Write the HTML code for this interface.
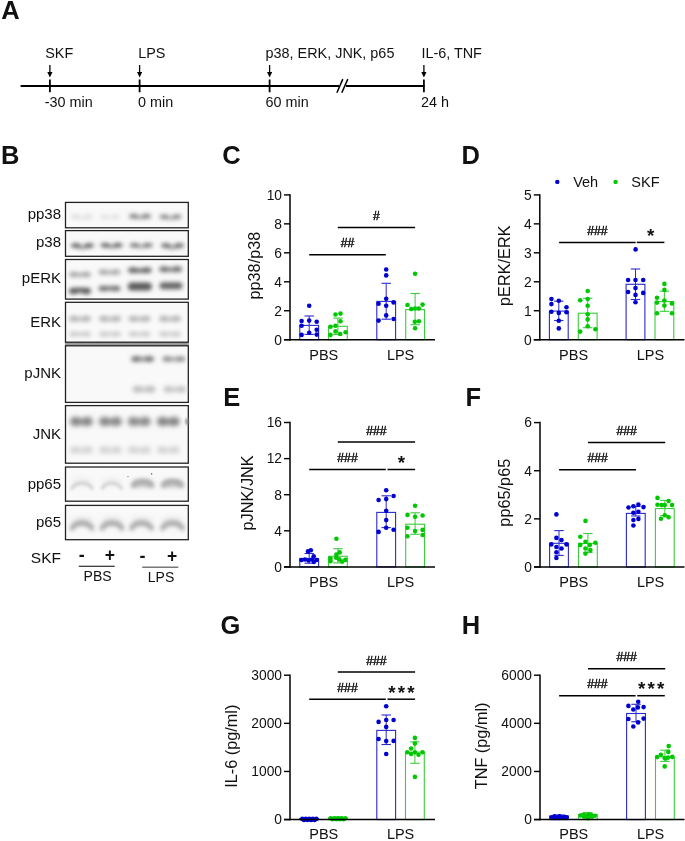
<!DOCTYPE html>
<html><head><meta charset="utf-8"><style>
html,body{margin:0;padding:0;background:#fff;}
svg{display:block;will-change:transform;}
text{font-family:"Liberation Sans", sans-serif;fill:#111;}
</style></head><body>
<svg width="685" height="841" viewBox="0 0 685 841">
<rect width="685" height="841" fill="#fff"/>
<text x="1.2" y="18.8" font-size="25.5" text-anchor="start" font-weight="bold" >A</text>
<text x="1.0" y="163.5" font-size="25.5" text-anchor="start" font-weight="bold" >B</text>
<text x="222.2" y="164.1" font-size="25.5" text-anchor="start" font-weight="bold" >C</text>
<text x="461.5" y="164.4" font-size="25.5" text-anchor="start" font-weight="bold" >D</text>
<text x="223.3" y="406.0" font-size="25.5" text-anchor="start" font-weight="bold" >E</text>
<text x="465.5" y="405.6" font-size="25.5" text-anchor="start" font-weight="bold" >F</text>
<text x="220.5" y="633.7" font-size="25.5" text-anchor="start" font-weight="bold" >G</text>
<text x="461.8" y="633.5" font-size="25.5" text-anchor="start" font-weight="bold" >H</text>
<line x1="20.6" y1="86" x2="339" y2="86" stroke="#000" stroke-width="1.8"/>
<line x1="346" y1="86" x2="424.5" y2="86" stroke="#000" stroke-width="1.8"/>
<line x1="336.9" y1="92.8" x2="342.8" y2="79.1" stroke="#000" stroke-width="1.5"/>
<line x1="341.8" y1="92.8" x2="347.8" y2="79.1" stroke="#000" stroke-width="1.5"/>
<line x1="49.9" y1="79.5" x2="49.9" y2="92.3" stroke="#000" stroke-width="1.8"/>
<line x1="49.9" y1="65" x2="49.9" y2="73" stroke="#000" stroke-width="1.3"/>
<path d="M47.3,72 L52.5,72 L49.9,77.5 Z" fill="#000"/>
<line x1="139.6" y1="79.5" x2="139.6" y2="92.3" stroke="#000" stroke-width="1.8"/>
<line x1="139.6" y1="65" x2="139.6" y2="73" stroke="#000" stroke-width="1.3"/>
<path d="M137.0,72 L142.2,72 L139.6,77.5 Z" fill="#000"/>
<line x1="269.6" y1="79.5" x2="269.6" y2="92.3" stroke="#000" stroke-width="1.8"/>
<line x1="269.6" y1="65" x2="269.6" y2="73" stroke="#000" stroke-width="1.3"/>
<path d="M267.0,72 L272.20000000000005,72 L269.6,77.5 Z" fill="#000"/>
<line x1="423.9" y1="79.5" x2="423.9" y2="92.3" stroke="#000" stroke-width="1.8"/>
<line x1="423.9" y1="65" x2="423.9" y2="73" stroke="#000" stroke-width="1.3"/>
<path d="M421.29999999999995,72 L426.5,72 L423.9,77.5 Z" fill="#000"/>
<text x="45.2" y="58.2" font-size="14.4" text-anchor="start" font-weight="normal" >SKF</text>
<text x="138.2" y="58.2" font-size="14.4" text-anchor="start" font-weight="normal" >LPS</text>
<text x="265.6" y="58.2" font-size="14.4" text-anchor="start" font-weight="normal" >p38, ERK, JNK, p65</text>
<text x="421.4" y="58.2" font-size="14.4" text-anchor="start" font-weight="normal" >IL-6, TNF</text>
<text x="44.8" y="107.2" font-size="14.4" text-anchor="start" font-weight="normal" >-30 min</text>
<text x="138.0" y="107.2" font-size="14.4" text-anchor="start" font-weight="normal" >0 min</text>
<text x="265.6" y="107.2" font-size="14.4" text-anchor="start" font-weight="normal" >60 min</text>
<text x="421.0" y="107.2" font-size="14.4" text-anchor="start" font-weight="normal" >24 h</text>
<defs><filter id="b10" filterUnits="userSpaceOnUse" x="0" y="0" width="685" height="841"><feGaussianBlur stdDeviation="1.0"/></filter><filter id="b11" filterUnits="userSpaceOnUse" x="0" y="0" width="685" height="841"><feGaussianBlur stdDeviation="1.1"/></filter><filter id="b12" filterUnits="userSpaceOnUse" x="0" y="0" width="685" height="841"><feGaussianBlur stdDeviation="1.2"/></filter><filter id="b13" filterUnits="userSpaceOnUse" x="0" y="0" width="685" height="841"><feGaussianBlur stdDeviation="1.3"/></filter><filter id="b14" filterUnits="userSpaceOnUse" x="0" y="0" width="685" height="841"><feGaussianBlur stdDeviation="1.4"/></filter><filter id="b15" filterUnits="userSpaceOnUse" x="0" y="0" width="685" height="841"><feGaussianBlur stdDeviation="1.5"/></filter><filter id="b16" filterUnits="userSpaceOnUse" x="0" y="0" width="685" height="841"><feGaussianBlur stdDeviation="1.6"/></filter><filter id="b17" filterUnits="userSpaceOnUse" x="0" y="0" width="685" height="841"><feGaussianBlur stdDeviation="1.7"/></filter><filter id="b18" filterUnits="userSpaceOnUse" x="0" y="0" width="685" height="841"><feGaussianBlur stdDeviation="1.8"/></filter><filter id="b19" filterUnits="userSpaceOnUse" x="0" y="0" width="685" height="841"><feGaussianBlur stdDeviation="1.9"/></filter><filter id="b20" filterUnits="userSpaceOnUse" x="0" y="0" width="685" height="841"><feGaussianBlur stdDeviation="2.0"/></filter><filter id="b21" filterUnits="userSpaceOnUse" x="0" y="0" width="685" height="841"><feGaussianBlur stdDeviation="2.1"/></filter><filter id="b22" filterUnits="userSpaceOnUse" x="0" y="0" width="685" height="841"><feGaussianBlur stdDeviation="2.2"/></filter><filter id="b23" filterUnits="userSpaceOnUse" x="0" y="0" width="685" height="841"><feGaussianBlur stdDeviation="2.3"/></filter><filter id="b24" filterUnits="userSpaceOnUse" x="0" y="0" width="685" height="841"><feGaussianBlur stdDeviation="2.4"/></filter><filter id="b25" filterUnits="userSpaceOnUse" x="0" y="0" width="685" height="841"><feGaussianBlur stdDeviation="2.5"/></filter><filter id="b26" filterUnits="userSpaceOnUse" x="0" y="0" width="685" height="841"><feGaussianBlur stdDeviation="2.6"/></filter><filter id="b27" filterUnits="userSpaceOnUse" x="0" y="0" width="685" height="841"><feGaussianBlur stdDeviation="2.7"/></filter><filter id="b28" filterUnits="userSpaceOnUse" x="0" y="0" width="685" height="841"><feGaussianBlur stdDeviation="2.8"/></filter><filter id="b29" filterUnits="userSpaceOnUse" x="0" y="0" width="685" height="841"><feGaussianBlur stdDeviation="2.9"/></filter><filter id="b30" filterUnits="userSpaceOnUse" x="0" y="0" width="685" height="841"><feGaussianBlur stdDeviation="3.0"/></filter><filter id="b31" filterUnits="userSpaceOnUse" x="0" y="0" width="685" height="841"><feGaussianBlur stdDeviation="3.1"/></filter><filter id="b32" filterUnits="userSpaceOnUse" x="0" y="0" width="685" height="841"><feGaussianBlur stdDeviation="3.2"/></filter><filter id="b33" filterUnits="userSpaceOnUse" x="0" y="0" width="685" height="841"><feGaussianBlur stdDeviation="3.3"/></filter><filter id="b34" filterUnits="userSpaceOnUse" x="0" y="0" width="685" height="841"><feGaussianBlur stdDeviation="3.4"/></filter></defs>
<rect x="64.9" y="342.2" width="124" height="3.6" fill="#9a9a9a"/>
<rect x="65.5" y="202.4" width="122.80000000000001" height="25.400000000000006" fill="#f9f9f9" stroke="#222" stroke-width="1.3"/>
<text x="61" y="218.8" font-size="15" text-anchor="end" font-weight="normal" >pp38</text>
<rect x="65.5" y="230.6" width="122.80000000000001" height="25.700000000000017" fill="#f9f9f9" stroke="#222" stroke-width="1.3"/>
<text x="61" y="246.7" font-size="15" text-anchor="end" font-weight="normal" >p38</text>
<rect x="65.5" y="259.5" width="122.80000000000001" height="39.60000000000002" fill="#f9f9f9" stroke="#222" stroke-width="1.3"/>
<text x="61" y="282.9" font-size="15" text-anchor="end" font-weight="normal" >pERK</text>
<rect x="65.5" y="302.3" width="122.80000000000001" height="39.89999999999998" fill="#f9f9f9" stroke="#222" stroke-width="1.3"/>
<text x="61" y="326.8" font-size="15" text-anchor="end" font-weight="normal" >ERK</text>
<rect x="65.5" y="345.8" width="122.80000000000001" height="56.599999999999966" fill="#f9f9f9" stroke="#222" stroke-width="1.3"/>
<text x="61" y="377.9" font-size="15" text-anchor="end" font-weight="normal" >pJNK</text>
<rect x="65.5" y="405.6" width="122.80000000000001" height="57.599999999999966" fill="#f9f9f9" stroke="#222" stroke-width="1.3"/>
<text x="61" y="439.2" font-size="15" text-anchor="end" font-weight="normal" >JNK</text>
<rect x="65.5" y="467.0" width="122.80000000000001" height="34.19999999999999" fill="#f9f9f9" stroke="#222" stroke-width="1.3"/>
<text x="61" y="488.6" font-size="15" text-anchor="end" font-weight="normal" >pp65</text>
<rect x="65.5" y="505.4" width="122.80000000000001" height="34.30000000000007" fill="#f9f9f9" stroke="#222" stroke-width="1.3"/>
<text x="61" y="526.8" font-size="15" text-anchor="end" font-weight="normal" >p65</text>
<g filter="url(#b20)"><path d="M75.7,216.6 Q82,220.6 88.3,216.6" stroke="#dadada" stroke-opacity="0.55" stroke-width="3.2" fill="none"/><ellipse cx="75.7" cy="216.6" rx="4.7" ry="2.0" fill="#dadada"/><ellipse cx="88.3" cy="216.6" rx="4.7" ry="2.0" fill="#dadada"/></g>
<g filter="url(#b20)"><path d="M104.3,216.6 Q110,220.6 115.7,216.6" stroke="#dedede" stroke-opacity="0.55" stroke-width="3.2" fill="none"/><ellipse cx="104.3" cy="216.6" rx="4.300000000000001" ry="2.0" fill="#dedede"/><ellipse cx="115.7" cy="216.6" rx="4.300000000000001" ry="2.0" fill="#dedede"/></g>
<g filter="url(#b19)"><path d="M133.7,216.2 Q140,219.2 146.3,216.2" stroke="#7a7a7a" stroke-opacity="0.6" stroke-width="3.6" fill="none"/><ellipse cx="133.7" cy="216.2" rx="4.7" ry="2.25" fill="#7a7a7a"/><ellipse cx="146.3" cy="216.2" rx="4.7" ry="2.25" fill="#7a7a7a"/></g>
<g filter="url(#b19)"><path d="M164.2,216.8 Q170.5,219.8 176.8,216.8" stroke="#868686" stroke-opacity="0.6" stroke-width="3.6" fill="none"/><ellipse cx="164.2" cy="216.8" rx="4.7" ry="2.25" fill="#868686"/><ellipse cx="176.8" cy="216.8" rx="4.7" ry="2.25" fill="#868686"/></g>
<g filter="url(#b19)"><path d="M75.80000000000001,245.4 Q82.4,249.8 89.0,245.4" stroke="#5e5e5e" stroke-opacity="0.6" stroke-width="3.6" fill="none"/><ellipse cx="75.80000000000001" cy="245.4" rx="4.9" ry="2.25" fill="#5e5e5e"/><ellipse cx="89.0" cy="245.4" rx="4.9" ry="2.25" fill="#5e5e5e"/></g>
<g filter="url(#b19)"><path d="M105.3,245.2 Q111.6,248.2 117.89999999999999,245.2" stroke="#606060" stroke-opacity="0.65" stroke-width="3.6" fill="none"/><ellipse cx="105.3" cy="245.2" rx="4.7" ry="2.25" fill="#606060"/><ellipse cx="117.89999999999999" cy="245.2" rx="4.7" ry="2.25" fill="#606060"/></g>
<g filter="url(#b19)"><path d="M134.6,245.2 Q141.2,248.2 147.79999999999998,245.2" stroke="#767676" stroke-opacity="0.6" stroke-width="3.6" fill="none"/><ellipse cx="134.6" cy="245.2" rx="4.9" ry="2.25" fill="#767676"/><ellipse cx="147.79999999999998" cy="245.2" rx="4.9" ry="2.25" fill="#767676"/></g>
<g filter="url(#b19)"><path d="M165.9,245.6 Q172.5,249.6 179.1,245.6" stroke="#666666" stroke-opacity="0.6" stroke-width="3.6" fill="none"/><ellipse cx="165.9" cy="245.6" rx="4.9" ry="2.25" fill="#666666"/><ellipse cx="179.1" cy="245.6" rx="4.9" ry="2.25" fill="#666666"/></g>
<g filter="url(#b21)"><path d="M73.7,274.4 Q80,275.4 86.3,274.4" stroke="#a6a6a6" stroke-opacity="0.8" stroke-width="4.4" fill="none"/><ellipse cx="73.7" cy="274.4" rx="4.7" ry="2.75" fill="#a6a6a6"/><ellipse cx="86.3" cy="274.4" rx="4.7" ry="2.75" fill="#a6a6a6"/></g>
<g filter="url(#b21)"><path d="M103.2,272.1 Q109.5,273.1 115.8,272.1" stroke="#a8a8a8" stroke-opacity="0.8" stroke-width="4.4" fill="none"/><ellipse cx="103.2" cy="272.1" rx="4.7" ry="2.75" fill="#a8a8a8"/><ellipse cx="115.8" cy="272.1" rx="4.7" ry="2.75" fill="#a8a8a8"/></g>
<g filter="url(#b21)"><path d="M132.9,270.2 Q139.8,271.2 146.70000000000002,270.2" stroke="#686868" stroke-opacity="0.85" stroke-width="4.800000000000001" fill="none"/><ellipse cx="132.9" cy="270.2" rx="5.1000000000000005" ry="3.0" fill="#686868"/><ellipse cx="146.70000000000002" cy="270.2" rx="5.1000000000000005" ry="3.0" fill="#686868"/></g>
<g filter="url(#b21)"><path d="M164.0,269.3 Q170.6,269.90000000000003 177.2,269.3" stroke="#747474" stroke-opacity="0.8" stroke-width="4.800000000000001" fill="none"/><ellipse cx="164.0" cy="269.3" rx="4.9" ry="3.0" fill="#747474"/><ellipse cx="177.2" cy="269.3" rx="4.9" ry="3.0" fill="#747474"/></g>
<g filter="url(#b21)"><path d="M73.7,291 Q80,289.4 86.3,291" stroke="#5a5a5a" stroke-opacity="0.9" stroke-width="5.2" fill="none"/><ellipse cx="73.7" cy="291" rx="4.7" ry="3.25" fill="#5a5a5a"/><ellipse cx="86.3" cy="291" rx="4.7" ry="3.25" fill="#5a5a5a"/></g>
<g filter="url(#b21)"><path d="M103.2,288.6 Q109.5,288.0 115.8,288.6" stroke="#6e6e6e" stroke-opacity="0.9" stroke-width="4.4" fill="none"/><ellipse cx="103.2" cy="288.6" rx="4.7" ry="2.75" fill="#6e6e6e"/><ellipse cx="115.8" cy="288.6" rx="4.7" ry="2.75" fill="#6e6e6e"/></g>
<g filter="url(#b22)" opacity="1.0"><rect x="127.80000000000001" y="282.4" width="24" height="8" rx="4.0" fill="#5a5a5a"/></g>
<g filter="url(#b22)" opacity="1.0"><rect x="159.5" y="282.3" width="23" height="7" rx="3.5" fill="#666666"/></g>
<g filter="url(#b22)"><path d="M73.7,318.8 Q80,319.40000000000003 86.3,318.8" stroke="#b6b6b6" stroke-opacity="0.8" stroke-width="4.800000000000001" fill="none"/><ellipse cx="73.7" cy="318.8" rx="4.7" ry="3.0" fill="#b6b6b6"/><ellipse cx="86.3" cy="318.8" rx="4.7" ry="3.0" fill="#b6b6b6"/></g>
<g filter="url(#b22)"><path d="M73.7,334 Q80,334.6 86.3,334" stroke="#c8c8c8" stroke-opacity="0.8" stroke-width="4.0" fill="none"/><ellipse cx="73.7" cy="334" rx="4.7" ry="2.5" fill="#c8c8c8"/><ellipse cx="86.3" cy="334" rx="4.7" ry="2.5" fill="#c8c8c8"/></g>
<g filter="url(#b22)"><path d="M103.7,318.8 Q110,319.40000000000003 116.3,318.8" stroke="#b6b6b6" stroke-opacity="0.8" stroke-width="4.800000000000001" fill="none"/><ellipse cx="103.7" cy="318.8" rx="4.7" ry="3.0" fill="#b6b6b6"/><ellipse cx="116.3" cy="318.8" rx="4.7" ry="3.0" fill="#b6b6b6"/></g>
<g filter="url(#b22)"><path d="M103.7,334 Q110,334.6 116.3,334" stroke="#c8c8c8" stroke-opacity="0.8" stroke-width="4.0" fill="none"/><ellipse cx="103.7" cy="334" rx="4.7" ry="2.5" fill="#c8c8c8"/><ellipse cx="116.3" cy="334" rx="4.7" ry="2.5" fill="#c8c8c8"/></g>
<g filter="url(#b22)"><path d="M133.2,318.8 Q139.5,319.40000000000003 145.8,318.8" stroke="#b6b6b6" stroke-opacity="0.8" stroke-width="4.800000000000001" fill="none"/><ellipse cx="133.2" cy="318.8" rx="4.7" ry="3.0" fill="#b6b6b6"/><ellipse cx="145.8" cy="318.8" rx="4.7" ry="3.0" fill="#b6b6b6"/></g>
<g filter="url(#b22)"><path d="M133.2,334 Q139.5,334.6 145.8,334" stroke="#c8c8c8" stroke-opacity="0.8" stroke-width="4.0" fill="none"/><ellipse cx="133.2" cy="334" rx="4.7" ry="2.5" fill="#c8c8c8"/><ellipse cx="145.8" cy="334" rx="4.7" ry="2.5" fill="#c8c8c8"/></g>
<g filter="url(#b22)"><path d="M163.7,318.8 Q170,319.40000000000003 176.3,318.8" stroke="#b6b6b6" stroke-opacity="0.8" stroke-width="4.800000000000001" fill="none"/><ellipse cx="163.7" cy="318.8" rx="4.7" ry="3.0" fill="#b6b6b6"/><ellipse cx="176.3" cy="318.8" rx="4.7" ry="3.0" fill="#b6b6b6"/></g>
<g filter="url(#b22)"><path d="M163.7,334 Q170,334.6 176.3,334" stroke="#c8c8c8" stroke-opacity="0.8" stroke-width="4.0" fill="none"/><ellipse cx="163.7" cy="334" rx="4.7" ry="2.5" fill="#c8c8c8"/><ellipse cx="176.3" cy="334" rx="4.7" ry="2.5" fill="#c8c8c8"/></g>
<g filter="url(#b20)"><path d="M136.0,358.9 Q142.6,359.5 149.2,358.9" stroke="#7a7a7a" stroke-opacity="0.7" stroke-width="4.800000000000001" fill="none"/><ellipse cx="136.0" cy="358.9" rx="4.9" ry="3.0" fill="#7a7a7a"/><ellipse cx="149.2" cy="358.9" rx="4.9" ry="3.0" fill="#7a7a7a"/></g>
<g filter="url(#b20)"><path d="M167.20000000000002,358.9 Q173.8,359.5 180.4,358.9" stroke="#8e8e8e" stroke-opacity="0.7" stroke-width="4.4" fill="none"/><ellipse cx="167.20000000000002" cy="358.9" rx="4.9" ry="2.75" fill="#8e8e8e"/><ellipse cx="180.4" cy="358.9" rx="4.9" ry="2.75" fill="#8e8e8e"/></g>
<g filter="url(#b22)"><path d="M137.4,389.2 Q144,389.8 150.6,389.2" stroke="#c0c0c0" stroke-opacity="0.8" stroke-width="5.6000000000000005" fill="none"/><ellipse cx="137.4" cy="389.2" rx="4.9" ry="3.5" fill="#c0c0c0"/><ellipse cx="150.6" cy="389.2" rx="4.9" ry="3.5" fill="#c0c0c0"/></g>
<g filter="url(#b22)"><path d="M168.20000000000002,389.2 Q174.8,389.8 181.4,389.2" stroke="#c6c6c6" stroke-opacity="0.8" stroke-width="5.6000000000000005" fill="none"/><ellipse cx="168.20000000000002" cy="389.2" rx="4.9" ry="3.5" fill="#c6c6c6"/><ellipse cx="181.4" cy="389.2" rx="4.9" ry="3.5" fill="#c6c6c6"/></g>
<g filter="url(#b26)"><path d="M75.24000000000001,421.5 Q81.4,421.9 87.56,421.5" stroke="#848484" stroke-opacity="0.8" stroke-width="7.6000000000000005" fill="none"/><ellipse cx="75.24000000000001" cy="421.5" rx="5.34" ry="4.75" fill="#848484"/><ellipse cx="87.56" cy="421.5" rx="5.34" ry="4.75" fill="#848484"/></g>
<g filter="url(#b24)"><path d="M74.80000000000001,450 Q81.4,450.4 88.0,450" stroke="#d0d0d0" stroke-opacity="0.8" stroke-width="5.6000000000000005" fill="none"/><ellipse cx="74.80000000000001" cy="450" rx="4.9" ry="3.5" fill="#d0d0d0"/><ellipse cx="88.0" cy="450" rx="4.9" ry="3.5" fill="#d0d0d0"/></g>
<g filter="url(#b26)"><path d="M104.24000000000001,421.5 Q110.4,421.9 116.56,421.5" stroke="#868686" stroke-opacity="0.8" stroke-width="7.6000000000000005" fill="none"/><ellipse cx="104.24000000000001" cy="421.5" rx="5.34" ry="4.75" fill="#868686"/><ellipse cx="116.56" cy="421.5" rx="5.34" ry="4.75" fill="#868686"/></g>
<g filter="url(#b24)"><path d="M103.80000000000001,450 Q110.4,450.4 117.0,450" stroke="#d0d0d0" stroke-opacity="0.8" stroke-width="5.6000000000000005" fill="none"/><ellipse cx="103.80000000000001" cy="450" rx="4.9" ry="3.5" fill="#d0d0d0"/><ellipse cx="117.0" cy="450" rx="4.9" ry="3.5" fill="#d0d0d0"/></g>
<g filter="url(#b26)"><path d="M133.14000000000001,421.5 Q139.3,421.9 145.46,421.5" stroke="#8a8a8a" stroke-opacity="0.8" stroke-width="7.6000000000000005" fill="none"/><ellipse cx="133.14000000000001" cy="421.5" rx="5.34" ry="4.75" fill="#8a8a8a"/><ellipse cx="145.46" cy="421.5" rx="5.34" ry="4.75" fill="#8a8a8a"/></g>
<g filter="url(#b24)"><path d="M132.70000000000002,450 Q139.3,450.4 145.9,450" stroke="#d0d0d0" stroke-opacity="0.8" stroke-width="5.6000000000000005" fill="none"/><ellipse cx="132.70000000000002" cy="450" rx="4.9" ry="3.5" fill="#d0d0d0"/><ellipse cx="145.9" cy="450" rx="4.9" ry="3.5" fill="#d0d0d0"/></g>
<g filter="url(#b26)"><path d="M162.14000000000001,421.5 Q168.3,421.9 174.46,421.5" stroke="#828282" stroke-opacity="0.8" stroke-width="7.6000000000000005" fill="none"/><ellipse cx="162.14000000000001" cy="421.5" rx="5.34" ry="4.75" fill="#828282"/><ellipse cx="174.46" cy="421.5" rx="5.34" ry="4.75" fill="#828282"/></g>
<g filter="url(#b24)"><path d="M161.70000000000002,450 Q168.3,450.4 174.9,450" stroke="#d0d0d0" stroke-opacity="0.8" stroke-width="5.6000000000000005" fill="none"/><ellipse cx="161.70000000000002" cy="450" rx="4.9" ry="3.5" fill="#d0d0d0"/><ellipse cx="174.9" cy="450" rx="4.9" ry="3.5" fill="#d0d0d0"/></g>
<g filter="url(#b12)" opacity="1.0"><rect x="185.5" y="418.0" width="3" height="7" rx="3.5" fill="#8a8a8a"/></g>
<g filter="url(#b30)"><ellipse cx="82" cy="481.7" rx="10.5" ry="4" fill="#ededed"/></g>
<g filter="url(#b17)"><path d="M72.0,488.2 C76.25,481.2 87.75,481.2 92.0,488.2" stroke="#d2d2d2" stroke-width="3.5" fill="none" stroke-linecap="round"/></g>
<g filter="url(#b30)"><ellipse cx="111.8" cy="481.7" rx="10.0" ry="4" fill="#eeeeee"/></g>
<g filter="url(#b17)"><path d="M102.3,488.2 C106.3,481.2 117.3,481.2 121.3,488.2" stroke="#d4d4d4" stroke-width="3.5" fill="none" stroke-linecap="round"/></g>
<g filter="url(#b22)" opacity="1.0"><rect x="132.6" y="480.0" width="20" height="8" rx="4.0" fill="#d0d0d0"/></g>
<g filter="url(#b22)" opacity="1.0"><rect x="162.5" y="480.0" width="20" height="8" rx="4.0" fill="#d0d0d0"/></g>
<g filter="url(#b20)"><path d="M133.1,485.5 C137.1,480.0 148.1,480.0 152.1,485.5" stroke="#a2a2a2" stroke-width="4.5" fill="none" stroke-linecap="round"/></g>
<g filter="url(#b20)"><path d="M163.0,485.5 C167.0,480.0 178.0,480.0 182.0,485.5" stroke="#a2a2a2" stroke-width="4.5" fill="none" stroke-linecap="round"/></g>
<circle cx="128" cy="476.5" r="0.6" fill="#555"/><circle cx="151.6" cy="473.9" r="0.7" fill="#444"/>
<g filter="url(#b30)"><ellipse cx="82" cy="521.8" rx="10.5" ry="4" fill="#e0e0e0"/></g>
<g filter="url(#b19)"><path d="M72.0,528.3 C76.25,521.3 87.75,521.3 92.0,528.3" stroke="#a2a2a2" stroke-width="4.6" fill="none" stroke-linecap="round"/></g>
<g filter="url(#b30)"><ellipse cx="112" cy="521.8" rx="10.5" ry="4" fill="#e0e0e0"/></g>
<g filter="url(#b19)"><path d="M102.0,528.3 C106.25,521.3 117.75,521.3 122.0,528.3" stroke="#a2a2a2" stroke-width="4.6" fill="none" stroke-linecap="round"/></g>
<g filter="url(#b30)"><ellipse cx="141.5" cy="521.8" rx="10.5" ry="4" fill="#e0e0e0"/></g>
<g filter="url(#b19)"><path d="M131.5,528.3 C135.75,521.3 147.25,521.3 151.5,528.3" stroke="#a2a2a2" stroke-width="4.6" fill="none" stroke-linecap="round"/></g>
<g filter="url(#b30)"><ellipse cx="172.5" cy="521.8" rx="10.5" ry="4" fill="#e0e0e0"/></g>
<g filter="url(#b19)"><path d="M162.5,528.3 C166.75,521.3 178.25,521.3 182.5,528.3" stroke="#a2a2a2" stroke-width="4.6" fill="none" stroke-linecap="round"/></g>
<text x="61" y="563.2" font-size="15.5" text-anchor="end" font-weight="normal" >SKF</text>
<text x="81.8" y="560.8" font-size="18" text-anchor="middle" font-weight="bold" >-</text>
<text x="109.8" y="560.9" font-size="17.5" text-anchor="middle" font-weight="bold" >+</text>
<text x="142.5" y="562" font-size="18" text-anchor="middle" font-weight="bold" >-</text>
<text x="172.2" y="561.9" font-size="17.5" text-anchor="middle" font-weight="bold" >+</text>
<line x1="78.8" y1="566.3" x2="114.7" y2="566.3" stroke="#000" stroke-width="1.1"/>
<line x1="142.2" y1="567.2" x2="178.3" y2="567.2" stroke="#777" stroke-width="1.6"/>
<text x="97.6" y="580.8" font-size="14" text-anchor="middle" font-weight="normal" >PBS</text>
<text x="161" y="582.2" font-size="14" text-anchor="middle" font-weight="normal" >LPS</text>
<line x1="284" y1="339.7" x2="290" y2="339.7" stroke="#000" stroke-width="1.4"/>
<text x="282" y="344.5" font-size="13.8" text-anchor="end" font-weight="normal" >0</text>
<line x1="284" y1="310.74" x2="290" y2="310.74" stroke="#000" stroke-width="1.4"/>
<text x="282" y="315.54" font-size="13.8" text-anchor="end" font-weight="normal" >2</text>
<line x1="284" y1="281.78" x2="290" y2="281.78" stroke="#000" stroke-width="1.4"/>
<text x="282" y="286.58" font-size="13.8" text-anchor="end" font-weight="normal" >4</text>
<line x1="284" y1="252.82" x2="290" y2="252.82" stroke="#000" stroke-width="1.4"/>
<text x="282" y="257.62" font-size="13.8" text-anchor="end" font-weight="normal" >6</text>
<line x1="284" y1="223.86" x2="290" y2="223.86" stroke="#000" stroke-width="1.4"/>
<text x="282" y="228.66000000000003" font-size="13.8" text-anchor="end" font-weight="normal" >8</text>
<line x1="284" y1="194.9" x2="290" y2="194.9" stroke="#000" stroke-width="1.4"/>
<text x="282" y="199.70000000000002" font-size="13.8" text-anchor="end" font-weight="normal" >10</text>
<rect x="299.8" y="325.4" width="18.8" height="14.300000000000011" fill="none" stroke="#2a2ad0" stroke-width="1.1"/>
<line x1="309.2" y1="316" x2="309.2" y2="334.4" stroke="#2a2ad0" stroke-width="1.0"/>
<line x1="304.5" y1="316" x2="313.9" y2="316" stroke="#2a2ad0" stroke-width="1.1"/>
<line x1="304.5" y1="334.4" x2="313.9" y2="334.4" stroke="#2a2ad0" stroke-width="1.1"/>
<circle cx="309.2" cy="305.7" r="2.3" fill="#0000d0"/>
<circle cx="301.6" cy="321" r="2.3" fill="#0000d0"/>
<circle cx="309.2" cy="320.6" r="2.3" fill="#0000d0"/>
<circle cx="316.7" cy="321.7" r="2.3" fill="#0000d0"/>
<circle cx="301.6" cy="325.8" r="2.3" fill="#0000d0"/>
<circle cx="316.7" cy="329.8" r="2.3" fill="#0000d0"/>
<circle cx="309.2" cy="332.8" r="2.3" fill="#0000d0"/>
<circle cx="301.6" cy="334.9" r="2.3" fill="#0000d0"/>
<circle cx="316.7" cy="334.6" r="2.3" fill="#0000d0"/>
<rect x="328.5" y="326.3" width="18.8" height="13.399999999999977" fill="none" stroke="#3ccc3c" stroke-width="1.1"/>
<line x1="337.9" y1="318.1" x2="337.9" y2="334.5" stroke="#3ccc3c" stroke-width="1.0"/>
<line x1="333.2" y1="318.1" x2="342.59999999999997" y2="318.1" stroke="#3ccc3c" stroke-width="1.1"/>
<line x1="333.2" y1="334.5" x2="342.59999999999997" y2="334.5" stroke="#3ccc3c" stroke-width="1.1"/>
<circle cx="335.5" cy="314.5" r="2.3" fill="#00c800"/>
<circle cx="340.5" cy="313.6" r="2.3" fill="#00c800"/>
<circle cx="340.5" cy="321.3" r="2.3" fill="#00c800"/>
<circle cx="335.5" cy="325.7" r="2.3" fill="#00c800"/>
<circle cx="330.5" cy="326.7" r="2.3" fill="#00c800"/>
<circle cx="335.5" cy="331.4" r="2.3" fill="#00c800"/>
<circle cx="345.6" cy="332.2" r="2.3" fill="#00c800"/>
<circle cx="340.1" cy="334" r="2.3" fill="#00c800"/>
<circle cx="330.5" cy="334.9" r="2.3" fill="#00c800"/>
<rect x="376.8" y="301.4" width="18.8" height="38.30000000000001" fill="none" stroke="#2a2ad0" stroke-width="1.1"/>
<line x1="386.2" y1="283.3" x2="386.2" y2="319.2" stroke="#2a2ad0" stroke-width="1.0"/>
<line x1="381.5" y1="283.3" x2="390.9" y2="283.3" stroke="#2a2ad0" stroke-width="1.1"/>
<line x1="381.5" y1="319.2" x2="390.9" y2="319.2" stroke="#2a2ad0" stroke-width="1.1"/>
<circle cx="386.2" cy="269.5" r="2.3" fill="#0000d0"/>
<circle cx="386.2" cy="275.4" r="2.3" fill="#0000d0"/>
<circle cx="386.2" cy="298.7" r="2.3" fill="#0000d0"/>
<circle cx="378.6" cy="303.7" r="2.3" fill="#0000d0"/>
<circle cx="393.6" cy="302.4" r="2.3" fill="#0000d0"/>
<circle cx="386.2" cy="305.7" r="2.3" fill="#0000d0"/>
<circle cx="386.2" cy="315.4" r="2.3" fill="#0000d0"/>
<circle cx="378.6" cy="320.6" r="2.3" fill="#0000d0"/>
<circle cx="393.6" cy="319" r="2.3" fill="#0000d0"/>
<rect x="405.70000000000005" y="309.6" width="18.8" height="30.099999999999966" fill="none" stroke="#3ccc3c" stroke-width="1.1"/>
<line x1="415.1" y1="293.5" x2="415.1" y2="324.7" stroke="#3ccc3c" stroke-width="1.0"/>
<line x1="410.40000000000003" y1="293.5" x2="419.8" y2="293.5" stroke="#3ccc3c" stroke-width="1.1"/>
<line x1="410.40000000000003" y1="324.7" x2="419.8" y2="324.7" stroke="#3ccc3c" stroke-width="1.1"/>
<circle cx="415.1" cy="273.8" r="2.3" fill="#00c800"/>
<circle cx="407.5" cy="305" r="2.3" fill="#00c800"/>
<circle cx="422.6" cy="304.6" r="2.3" fill="#00c800"/>
<circle cx="411.2" cy="309" r="2.3" fill="#00c800"/>
<circle cx="415.1" cy="308.5" r="2.3" fill="#00c800"/>
<circle cx="418.8" cy="308.5" r="2.3" fill="#00c800"/>
<circle cx="414.8" cy="321.7" r="2.3" fill="#00c800"/>
<circle cx="418.9" cy="321.2" r="2.3" fill="#00c800"/>
<circle cx="415.1" cy="328.2" r="2.3" fill="#00c800"/>
<line x1="290" y1="194.15" x2="290" y2="340.45" stroke="#000" stroke-width="1.5"/>
<line x1="284" y1="339.7" x2="435" y2="339.7" stroke="#000" stroke-width="1.5"/>
<text x="0" y="0" font-size="16.3" text-anchor="middle" transform="translate(260.2,265.6) rotate(-90)">pp38/p38</text>
<text x="323.8" y="359.5" font-size="14.5" text-anchor="middle" font-weight="normal" >PBS</text>
<text x="400.6" y="359.5" font-size="14.5" text-anchor="middle" font-weight="normal" >LPS</text>
<line x1="309.2" y1="254.8" x2="385.8" y2="254.8" stroke="#000" stroke-width="1.5"/>
<text x="347.5" y="247.4" font-size="12.2" text-anchor="middle" font-weight="normal" stroke="#000" stroke-width="0.4">##</text>
<line x1="337.8" y1="227.6" x2="415.1" y2="227.6" stroke="#000" stroke-width="1.5"/>
<text x="376.45000000000005" y="220.2" font-size="12.2" text-anchor="middle" font-weight="normal" stroke="#000" stroke-width="0.4">#</text>
<line x1="533.8" y1="339.7" x2="539.8" y2="339.7" stroke="#000" stroke-width="1.4"/>
<text x="531.8" y="344.5" font-size="13.8" text-anchor="end" font-weight="normal" >0</text>
<line x1="533.8" y1="310.74" x2="539.8" y2="310.74" stroke="#000" stroke-width="1.4"/>
<text x="531.8" y="315.54" font-size="13.8" text-anchor="end" font-weight="normal" >1</text>
<line x1="533.8" y1="281.78" x2="539.8" y2="281.78" stroke="#000" stroke-width="1.4"/>
<text x="531.8" y="286.58" font-size="13.8" text-anchor="end" font-weight="normal" >2</text>
<line x1="533.8" y1="252.82" x2="539.8" y2="252.82" stroke="#000" stroke-width="1.4"/>
<text x="531.8" y="257.62" font-size="13.8" text-anchor="end" font-weight="normal" >3</text>
<line x1="533.8" y1="223.86" x2="539.8" y2="223.86" stroke="#000" stroke-width="1.4"/>
<text x="531.8" y="228.66000000000003" font-size="13.8" text-anchor="end" font-weight="normal" >4</text>
<line x1="533.8" y1="194.9" x2="539.8" y2="194.9" stroke="#000" stroke-width="1.4"/>
<text x="531.8" y="199.70000000000002" font-size="13.8" text-anchor="end" font-weight="normal" >5</text>
<rect x="549.4" y="311.1" width="18.8" height="28.599999999999966" fill="none" stroke="#2a2ad0" stroke-width="1.1"/>
<line x1="558.8" y1="301.2" x2="558.8" y2="320.5" stroke="#2a2ad0" stroke-width="1.0"/>
<line x1="554.0999999999999" y1="301.2" x2="563.5" y2="301.2" stroke="#2a2ad0" stroke-width="1.1"/>
<line x1="554.0999999999999" y1="320.5" x2="563.5" y2="320.5" stroke="#2a2ad0" stroke-width="1.1"/>
<circle cx="551.4" cy="299" r="2.3" fill="#0000d0"/>
<circle cx="558.8" cy="300.8" r="2.3" fill="#0000d0"/>
<circle cx="551.4" cy="304.1" r="2.3" fill="#0000d0"/>
<circle cx="566.5" cy="307.3" r="2.3" fill="#0000d0"/>
<circle cx="551.4" cy="311.7" r="2.3" fill="#0000d0"/>
<circle cx="558.8" cy="312.9" r="2.3" fill="#0000d0"/>
<circle cx="566.5" cy="312.2" r="2.3" fill="#0000d0"/>
<circle cx="558.8" cy="320.7" r="2.3" fill="#0000d0"/>
<circle cx="558.8" cy="328.4" r="2.3" fill="#0000d0"/>
<rect x="578.3000000000001" y="313.2" width="18.8" height="26.5" fill="none" stroke="#3ccc3c" stroke-width="1.1"/>
<line x1="587.7" y1="298.3" x2="587.7" y2="327.7" stroke="#3ccc3c" stroke-width="1.0"/>
<line x1="583.0" y1="298.3" x2="592.4000000000001" y2="298.3" stroke="#3ccc3c" stroke-width="1.1"/>
<line x1="583.0" y1="327.7" x2="592.4000000000001" y2="327.7" stroke="#3ccc3c" stroke-width="1.1"/>
<circle cx="587.7" cy="291" r="2.3" fill="#00c800"/>
<circle cx="580.2" cy="300.2" r="2.3" fill="#00c800"/>
<circle cx="587.7" cy="299" r="2.3" fill="#00c800"/>
<circle cx="587.7" cy="305.8" r="2.3" fill="#00c800"/>
<circle cx="587.7" cy="314.2" r="2.3" fill="#00c800"/>
<circle cx="587.7" cy="319.4" r="2.3" fill="#00c800"/>
<circle cx="587.7" cy="326.2" r="2.3" fill="#00c800"/>
<circle cx="595.4" cy="329.2" r="2.3" fill="#00c800"/>
<circle cx="580.2" cy="331.6" r="2.3" fill="#00c800"/>
<rect x="626.1" y="284.3" width="18.8" height="55.39999999999998" fill="none" stroke="#2a2ad0" stroke-width="1.1"/>
<line x1="635.5" y1="269" x2="635.5" y2="299.5" stroke="#2a2ad0" stroke-width="1.0"/>
<line x1="630.8" y1="269" x2="640.2" y2="269" stroke="#2a2ad0" stroke-width="1.1"/>
<line x1="630.8" y1="299.5" x2="640.2" y2="299.5" stroke="#2a2ad0" stroke-width="1.1"/>
<circle cx="635.6" cy="249.4" r="2.3" fill="#0000d0"/>
<circle cx="628.1" cy="280" r="2.3" fill="#0000d0"/>
<circle cx="635.5" cy="280" r="2.3" fill="#0000d0"/>
<circle cx="643.2" cy="280" r="2.3" fill="#0000d0"/>
<circle cx="635.5" cy="288.1" r="2.3" fill="#0000d0"/>
<circle cx="628.1" cy="292" r="2.3" fill="#0000d0"/>
<circle cx="643.2" cy="292.9" r="2.3" fill="#0000d0"/>
<circle cx="635.5" cy="294.9" r="2.3" fill="#0000d0"/>
<circle cx="635.5" cy="302.3" r="2.3" fill="#0000d0"/>
<rect x="655.0" y="301.6" width="18.8" height="38.099999999999966" fill="none" stroke="#3ccc3c" stroke-width="1.1"/>
<line x1="664.4" y1="291.2" x2="664.4" y2="311.3" stroke="#3ccc3c" stroke-width="1.0"/>
<line x1="659.6999999999999" y1="291.2" x2="669.1" y2="291.2" stroke="#3ccc3c" stroke-width="1.1"/>
<line x1="659.6999999999999" y1="311.3" x2="669.1" y2="311.3" stroke="#3ccc3c" stroke-width="1.1"/>
<circle cx="664.4" cy="283.9" r="2.3" fill="#00c800"/>
<circle cx="664.4" cy="289.9" r="2.3" fill="#00c800"/>
<circle cx="657" cy="297.7" r="2.3" fill="#00c800"/>
<circle cx="664.4" cy="300.5" r="2.3" fill="#00c800"/>
<circle cx="657" cy="302.6" r="2.3" fill="#00c800"/>
<circle cx="671.9" cy="303.4" r="2.3" fill="#00c800"/>
<circle cx="664.4" cy="305.6" r="2.3" fill="#00c800"/>
<circle cx="657" cy="313.2" r="2.3" fill="#00c800"/>
<circle cx="671.9" cy="313.2" r="2.3" fill="#00c800"/>
<line x1="539.8" y1="194.15" x2="539.8" y2="340.45" stroke="#000" stroke-width="1.5"/>
<line x1="533.8" y1="339.7" x2="684.5" y2="339.7" stroke="#000" stroke-width="1.5"/>
<text x="0" y="0" font-size="16.3" text-anchor="middle" transform="translate(510.2,265.7) rotate(-90)">pERK/ERK</text>
<text x="573.5999999999999" y="359.5" font-size="14.5" text-anchor="middle" font-weight="normal" >PBS</text>
<text x="650.4" y="359.5" font-size="14.5" text-anchor="middle" font-weight="normal" >LPS</text>
<line x1="559.1" y1="242.4" x2="635.6" y2="242.4" stroke="#000" stroke-width="1.5"/>
<text x="597.35" y="235.0" font-size="12.2" text-anchor="middle" font-weight="normal" stroke="#000" stroke-width="0.4">###</text>
<line x1="636.8" y1="242.4" x2="664.4" y2="242.4" stroke="#000" stroke-width="1.5"/>
<text x="650.5999999999999" y="242.1" font-size="18.8" text-anchor="middle" font-weight="bold" letter-spacing="0">*</text>
<line x1="284" y1="566.9" x2="290" y2="566.9" stroke="#000" stroke-width="1.4"/>
<text x="282" y="571.6999999999999" font-size="13.8" text-anchor="end" font-weight="normal" >0</text>
<line x1="284" y1="530.8" x2="290" y2="530.8" stroke="#000" stroke-width="1.4"/>
<text x="282" y="535.5999999999999" font-size="13.8" text-anchor="end" font-weight="normal" >4</text>
<line x1="284" y1="494.7" x2="290" y2="494.7" stroke="#000" stroke-width="1.4"/>
<text x="282" y="499.5" font-size="13.8" text-anchor="end" font-weight="normal" >8</text>
<line x1="284" y1="458.6" x2="290" y2="458.6" stroke="#000" stroke-width="1.4"/>
<text x="282" y="463.40000000000003" font-size="13.8" text-anchor="end" font-weight="normal" >12</text>
<line x1="284" y1="422.5" x2="290" y2="422.5" stroke="#000" stroke-width="1.4"/>
<text x="282" y="427.3" font-size="13.8" text-anchor="end" font-weight="normal" >16</text>
<rect x="299.8" y="558.5" width="18.8" height="8.399999999999977" fill="none" stroke="#2a2ad0" stroke-width="1.1"/>
<line x1="309.2" y1="553.5" x2="309.2" y2="563.2" stroke="#2a2ad0" stroke-width="1.0"/>
<line x1="304.5" y1="553.5" x2="313.9" y2="553.5" stroke="#2a2ad0" stroke-width="1.1"/>
<line x1="304.5" y1="563.2" x2="313.9" y2="563.2" stroke="#2a2ad0" stroke-width="1.1"/>
<circle cx="301.5" cy="560" r="2.3" fill="#0000d0"/>
<circle cx="305" cy="559.5" r="2.3" fill="#0000d0"/>
<circle cx="308.5" cy="560.5" r="2.3" fill="#0000d0"/>
<circle cx="312" cy="559.5" r="2.3" fill="#0000d0"/>
<circle cx="316.5" cy="560" r="2.3" fill="#0000d0"/>
<circle cx="313.8" cy="562" r="2.3" fill="#0000d0"/>
<circle cx="313.7" cy="556.3" r="2.3" fill="#0000d0"/>
<circle cx="308" cy="551.4" r="2.3" fill="#0000d0"/>
<circle cx="310.8" cy="550.2" r="2.3" fill="#0000d0"/>
<rect x="328.5" y="556.3" width="18.8" height="10.600000000000023" fill="none" stroke="#3ccc3c" stroke-width="1.1"/>
<line x1="337.9" y1="548.7" x2="337.9" y2="562.9" stroke="#3ccc3c" stroke-width="1.0"/>
<line x1="333.2" y1="548.7" x2="342.59999999999997" y2="548.7" stroke="#3ccc3c" stroke-width="1.1"/>
<line x1="333.2" y1="562.9" x2="342.59999999999997" y2="562.9" stroke="#3ccc3c" stroke-width="1.1"/>
<circle cx="336.4" cy="538.8" r="2.3" fill="#00c800"/>
<circle cx="339.7" cy="552.4" r="2.3" fill="#00c800"/>
<circle cx="336.4" cy="554.6" r="2.3" fill="#00c800"/>
<circle cx="330.5" cy="558.5" r="2.3" fill="#00c800"/>
<circle cx="336.2" cy="557.8" r="2.3" fill="#00c800"/>
<circle cx="339.2" cy="559.4" r="2.3" fill="#00c800"/>
<circle cx="345.4" cy="559.9" r="2.3" fill="#00c800"/>
<circle cx="330.5" cy="561.2" r="2.3" fill="#00c800"/>
<circle cx="342.3" cy="561.6" r="2.3" fill="#00c800"/>
<rect x="376.8" y="512.4" width="18.8" height="54.5" fill="none" stroke="#2a2ad0" stroke-width="1.1"/>
<line x1="386.2" y1="495.8" x2="386.2" y2="527.6" stroke="#2a2ad0" stroke-width="1.0"/>
<line x1="381.5" y1="495.8" x2="390.9" y2="495.8" stroke="#2a2ad0" stroke-width="1.1"/>
<line x1="381.5" y1="527.6" x2="390.9" y2="527.6" stroke="#2a2ad0" stroke-width="1.1"/>
<circle cx="386.2" cy="490.3" r="2.3" fill="#0000d0"/>
<circle cx="393.6" cy="496" r="2.3" fill="#0000d0"/>
<circle cx="378.6" cy="500" r="2.3" fill="#0000d0"/>
<circle cx="386.2" cy="499.1" r="2.3" fill="#0000d0"/>
<circle cx="386.2" cy="510.8" r="2.3" fill="#0000d0"/>
<circle cx="386.2" cy="520.1" r="2.3" fill="#0000d0"/>
<circle cx="386.2" cy="527.7" r="2.3" fill="#0000d0"/>
<circle cx="393.6" cy="529.7" r="2.3" fill="#0000d0"/>
<circle cx="378.6" cy="531.9" r="2.3" fill="#0000d0"/>
<rect x="405.70000000000005" y="524.2" width="18.8" height="42.69999999999993" fill="none" stroke="#3ccc3c" stroke-width="1.1"/>
<line x1="415.1" y1="512.8" x2="415.1" y2="534.3" stroke="#3ccc3c" stroke-width="1.0"/>
<line x1="410.40000000000003" y1="512.8" x2="419.8" y2="512.8" stroke="#3ccc3c" stroke-width="1.1"/>
<line x1="410.40000000000003" y1="534.3" x2="419.8" y2="534.3" stroke="#3ccc3c" stroke-width="1.1"/>
<circle cx="415.1" cy="505.7" r="2.3" fill="#00c800"/>
<circle cx="407.5" cy="514.9" r="2.3" fill="#00c800"/>
<circle cx="422.6" cy="515.5" r="2.3" fill="#00c800"/>
<circle cx="415.1" cy="516.8" r="2.3" fill="#00c800"/>
<circle cx="407.5" cy="527.7" r="2.3" fill="#00c800"/>
<circle cx="415.1" cy="531.1" r="2.3" fill="#00c800"/>
<circle cx="422.6" cy="529.9" r="2.3" fill="#00c800"/>
<circle cx="422.6" cy="535" r="2.3" fill="#00c800"/>
<circle cx="407.5" cy="536.3" r="2.3" fill="#00c800"/>
<line x1="290" y1="421.75" x2="290" y2="567.65" stroke="#000" stroke-width="1.5"/>
<line x1="284" y1="566.9" x2="435" y2="566.9" stroke="#000" stroke-width="1.5"/>
<text x="0" y="0" font-size="16.3" text-anchor="middle" transform="translate(253.1,492.9) rotate(-90)">pJNK/JNK</text>
<text x="323.8" y="586.6999999999999" font-size="14.5" text-anchor="middle" font-weight="normal" >PBS</text>
<text x="400.6" y="586.6999999999999" font-size="14.5" text-anchor="middle" font-weight="normal" >LPS</text>
<line x1="309.2" y1="469.5" x2="385.8" y2="469.5" stroke="#000" stroke-width="1.5"/>
<text x="347.5" y="462.1" font-size="12.2" text-anchor="middle" font-weight="normal" stroke="#000" stroke-width="0.4">###</text>
<line x1="387.5" y1="469.5" x2="415.1" y2="469.5" stroke="#000" stroke-width="1.5"/>
<text x="401.3" y="469.2" font-size="18.8" text-anchor="middle" font-weight="bold" letter-spacing="0">*</text>
<line x1="337.8" y1="442.1" x2="415.1" y2="442.1" stroke="#000" stroke-width="1.5"/>
<text x="376.45000000000005" y="434.70000000000005" font-size="12.2" text-anchor="middle" font-weight="normal" stroke="#000" stroke-width="0.4">###</text>
<line x1="534" y1="567.0" x2="540" y2="567.0" stroke="#000" stroke-width="1.4"/>
<text x="532" y="571.8" font-size="13.8" text-anchor="end" font-weight="normal" >0</text>
<line x1="534" y1="518.8666666666667" x2="540" y2="518.8666666666667" stroke="#000" stroke-width="1.4"/>
<text x="532" y="523.6666666666666" font-size="13.8" text-anchor="end" font-weight="normal" >2</text>
<line x1="534" y1="470.73333333333335" x2="540" y2="470.73333333333335" stroke="#000" stroke-width="1.4"/>
<text x="532" y="475.53333333333336" font-size="13.8" text-anchor="end" font-weight="normal" >4</text>
<line x1="534" y1="422.6" x2="540" y2="422.6" stroke="#000" stroke-width="1.4"/>
<text x="532" y="427.40000000000003" font-size="13.8" text-anchor="end" font-weight="normal" >6</text>
<rect x="549.6" y="543.3" width="18.8" height="23.700000000000045" fill="none" stroke="#2a2ad0" stroke-width="1.1"/>
<line x1="559.0" y1="530.6" x2="559.0" y2="555.4" stroke="#2a2ad0" stroke-width="1.0"/>
<line x1="554.3" y1="530.6" x2="563.7" y2="530.6" stroke="#2a2ad0" stroke-width="1.1"/>
<line x1="554.3" y1="555.4" x2="563.7" y2="555.4" stroke="#2a2ad0" stroke-width="1.1"/>
<circle cx="556.4" cy="514.4" r="2.3" fill="#0000d0"/>
<circle cx="556.4" cy="537.9" r="2.3" fill="#0000d0"/>
<circle cx="561.5" cy="540" r="2.3" fill="#0000d0"/>
<circle cx="551.3" cy="544.4" r="2.3" fill="#0000d0"/>
<circle cx="566.5" cy="544.4" r="2.3" fill="#0000d0"/>
<circle cx="556.4" cy="547" r="2.3" fill="#0000d0"/>
<circle cx="561.5" cy="548.5" r="2.3" fill="#0000d0"/>
<circle cx="556.4" cy="552.3" r="2.3" fill="#0000d0"/>
<circle cx="556.4" cy="558" r="2.3" fill="#0000d0"/>
<rect x="578.5" y="543.5" width="18.8" height="23.5" fill="none" stroke="#3ccc3c" stroke-width="1.1"/>
<line x1="587.9" y1="533.5" x2="587.9" y2="552.5" stroke="#3ccc3c" stroke-width="1.0"/>
<line x1="583.1999999999999" y1="533.5" x2="592.6" y2="533.5" stroke="#3ccc3c" stroke-width="1.1"/>
<line x1="583.1999999999999" y1="552.5" x2="592.6" y2="552.5" stroke="#3ccc3c" stroke-width="1.1"/>
<circle cx="585.5" cy="520.9" r="2.3" fill="#00c800"/>
<circle cx="580.3" cy="536.7" r="2.3" fill="#00c800"/>
<circle cx="585.5" cy="541.7" r="2.3" fill="#00c800"/>
<circle cx="595.4" cy="542.8" r="2.3" fill="#00c800"/>
<circle cx="580.3" cy="544.9" r="2.3" fill="#00c800"/>
<circle cx="589.8" cy="544.9" r="2.3" fill="#00c800"/>
<circle cx="585.5" cy="548.5" r="2.3" fill="#00c800"/>
<circle cx="590.4" cy="550.1" r="2.3" fill="#00c800"/>
<circle cx="585.5" cy="553.6" r="2.3" fill="#00c800"/>
<rect x="626.4" y="513.4" width="18.8" height="53.60000000000002" fill="none" stroke="#2a2ad0" stroke-width="1.1"/>
<line x1="635.8" y1="506.4" x2="635.8" y2="516.0" stroke="#2a2ad0" stroke-width="1.0"/>
<line x1="631.0999999999999" y1="506.4" x2="640.5" y2="506.4" stroke="#2a2ad0" stroke-width="1.1"/>
<line x1="631.0999999999999" y1="516.0" x2="640.5" y2="516.0" stroke="#2a2ad0" stroke-width="1.1"/>
<circle cx="628.5" cy="507.5" r="2.3" fill="#0000d0"/>
<circle cx="633.4" cy="506.2" r="2.3" fill="#0000d0"/>
<circle cx="638.4" cy="504.6" r="2.3" fill="#0000d0"/>
<circle cx="643.5" cy="507.1" r="2.3" fill="#0000d0"/>
<circle cx="633.4" cy="512.8" r="2.3" fill="#0000d0"/>
<circle cx="638.4" cy="511.8" r="2.3" fill="#0000d0"/>
<circle cx="638.4" cy="518.9" r="2.3" fill="#0000d0"/>
<circle cx="633.4" cy="520" r="2.3" fill="#0000d0"/>
<circle cx="633.4" cy="525.5" r="2.3" fill="#0000d0"/>
<rect x="655.4" y="508.6" width="18.8" height="58.39999999999998" fill="none" stroke="#3ccc3c" stroke-width="1.1"/>
<line x1="664.8" y1="500.4" x2="664.8" y2="515.6" stroke="#3ccc3c" stroke-width="1.0"/>
<line x1="660.0999999999999" y1="500.4" x2="669.5" y2="500.4" stroke="#3ccc3c" stroke-width="1.1"/>
<line x1="660.0999999999999" y1="515.6" x2="669.5" y2="515.6" stroke="#3ccc3c" stroke-width="1.1"/>
<circle cx="657.5" cy="497.9" r="2.3" fill="#00c800"/>
<circle cx="668.6" cy="501" r="2.3" fill="#00c800"/>
<circle cx="657.5" cy="504.8" r="2.3" fill="#00c800"/>
<circle cx="661.6" cy="505.1" r="2.3" fill="#00c800"/>
<circle cx="664.8" cy="505.1" r="2.3" fill="#00c800"/>
<circle cx="672.1" cy="505.1" r="2.3" fill="#00c800"/>
<circle cx="664.8" cy="515.3" r="2.3" fill="#00c800"/>
<circle cx="668.6" cy="517.3" r="2.3" fill="#00c800"/>
<circle cx="661" cy="518.8" r="2.3" fill="#00c800"/>
<line x1="540" y1="421.85" x2="540" y2="567.75" stroke="#000" stroke-width="1.5"/>
<line x1="534" y1="567.0" x2="684.5" y2="567.0" stroke="#000" stroke-width="1.5"/>
<text x="0" y="0" font-size="16.3" text-anchor="middle" transform="translate(510.2,492.7) rotate(-90)">pp65/p65</text>
<text x="573.8" y="586.8" font-size="14.5" text-anchor="middle" font-weight="normal" >PBS</text>
<text x="650.6" y="586.8" font-size="14.5" text-anchor="middle" font-weight="normal" >LPS</text>
<line x1="559.1" y1="469.7" x2="636" y2="469.7" stroke="#000" stroke-width="1.5"/>
<text x="597.55" y="462.3" font-size="12.2" text-anchor="middle" font-weight="normal" stroke="#000" stroke-width="0.4">###</text>
<line x1="588" y1="442.4" x2="665.2" y2="442.4" stroke="#000" stroke-width="1.5"/>
<text x="626.6" y="435.0" font-size="12.2" text-anchor="middle" font-weight="normal" stroke="#000" stroke-width="0.4">###</text>
<line x1="284" y1="819.6" x2="290" y2="819.6" stroke="#000" stroke-width="1.4"/>
<text x="282" y="824.4" font-size="13.8" text-anchor="end" font-weight="normal" >0</text>
<line x1="284" y1="771.4666666666667" x2="290" y2="771.4666666666667" stroke="#000" stroke-width="1.4"/>
<text x="282" y="776.2666666666667" font-size="13.8" text-anchor="end" font-weight="normal" >1000</text>
<line x1="284" y1="723.3333333333334" x2="290" y2="723.3333333333334" stroke="#000" stroke-width="1.4"/>
<text x="282" y="728.1333333333333" font-size="13.8" text-anchor="end" font-weight="normal" >2000</text>
<line x1="284" y1="675.2" x2="290" y2="675.2" stroke="#000" stroke-width="1.4"/>
<text x="282" y="680.0" font-size="13.8" text-anchor="end" font-weight="normal" >3000</text>
<rect x="299.8" y="818.5" width="18.8" height="1.1000000000000227" fill="none" stroke="#2a2ad0" stroke-width="1.1"/>
<line x1="309.2" y1="818" x2="309.2" y2="819.3" stroke="#2a2ad0" stroke-width="1.0"/>
<line x1="304.5" y1="818" x2="313.9" y2="818" stroke="#2a2ad0" stroke-width="1.1"/>
<line x1="304.5" y1="819.3" x2="313.9" y2="819.3" stroke="#2a2ad0" stroke-width="1.1"/>
<circle cx="302.3" cy="818.9" r="2.3" fill="#0000d0"/>
<circle cx="304.05" cy="819.9" r="2.3" fill="#0000d0"/>
<circle cx="305.8" cy="818.9" r="2.3" fill="#0000d0"/>
<circle cx="307.55" cy="819.9" r="2.3" fill="#0000d0"/>
<circle cx="309.3" cy="818.9" r="2.3" fill="#0000d0"/>
<circle cx="311.05" cy="819.9" r="2.3" fill="#0000d0"/>
<circle cx="312.8" cy="818.9" r="2.3" fill="#0000d0"/>
<circle cx="314.55" cy="819.9" r="2.3" fill="#0000d0"/>
<circle cx="316.3" cy="818.9" r="2.3" fill="#0000d0"/>
<rect x="328.5" y="817.8" width="18.8" height="1.8000000000000682" fill="none" stroke="#3ccc3c" stroke-width="1.1"/>
<line x1="337.9" y1="817" x2="337.9" y2="818.6" stroke="#3ccc3c" stroke-width="1.0"/>
<line x1="333.2" y1="817" x2="342.59999999999997" y2="817" stroke="#3ccc3c" stroke-width="1.1"/>
<line x1="333.2" y1="818.6" x2="342.59999999999997" y2="818.6" stroke="#3ccc3c" stroke-width="1.1"/>
<circle cx="330.8" cy="818.2" r="2.3" fill="#00c800"/>
<circle cx="332.6" cy="819.2" r="2.3" fill="#00c800"/>
<circle cx="334.4" cy="818.2" r="2.3" fill="#00c800"/>
<circle cx="336.2" cy="819.2" r="2.3" fill="#00c800"/>
<circle cx="338.0" cy="818.2" r="2.3" fill="#00c800"/>
<circle cx="339.8" cy="819.2" r="2.3" fill="#00c800"/>
<circle cx="341.6" cy="818.2" r="2.3" fill="#00c800"/>
<circle cx="343.4" cy="819.2" r="2.3" fill="#00c800"/>
<circle cx="345.2" cy="818.2" r="2.3" fill="#00c800"/>
<rect x="376.8" y="730.4" width="18.8" height="89.20000000000005" fill="none" stroke="#2a2ad0" stroke-width="1.1"/>
<line x1="386.2" y1="715" x2="386.2" y2="744.5" stroke="#2a2ad0" stroke-width="1.0"/>
<line x1="381.5" y1="715" x2="390.9" y2="715" stroke="#2a2ad0" stroke-width="1.1"/>
<line x1="381.5" y1="744.5" x2="390.9" y2="744.5" stroke="#2a2ad0" stroke-width="1.1"/>
<circle cx="386.2" cy="706.2" r="2.3" fill="#0000d0"/>
<circle cx="378.6" cy="721.9" r="2.3" fill="#0000d0"/>
<circle cx="386.2" cy="720" r="2.3" fill="#0000d0"/>
<circle cx="393.6" cy="720" r="2.3" fill="#0000d0"/>
<circle cx="386.2" cy="726.9" r="2.3" fill="#0000d0"/>
<circle cx="378.6" cy="739" r="2.3" fill="#0000d0"/>
<circle cx="386.2" cy="741.1" r="2.3" fill="#0000d0"/>
<circle cx="393.6" cy="740.9" r="2.3" fill="#0000d0"/>
<circle cx="386.2" cy="754" r="2.3" fill="#0000d0"/>
<rect x="405.5" y="752.1" width="18.8" height="67.5" fill="none" stroke="#3ccc3c" stroke-width="1.1"/>
<line x1="414.9" y1="741.9" x2="414.9" y2="763.3" stroke="#3ccc3c" stroke-width="1.0"/>
<line x1="410.2" y1="741.9" x2="419.59999999999997" y2="741.9" stroke="#3ccc3c" stroke-width="1.1"/>
<line x1="410.2" y1="763.3" x2="419.59999999999997" y2="763.3" stroke="#3ccc3c" stroke-width="1.1"/>
<circle cx="414.9" cy="737.9" r="2.3" fill="#00c800"/>
<circle cx="414.9" cy="743.6" r="2.3" fill="#00c800"/>
<circle cx="411.1" cy="748.5" r="2.3" fill="#00c800"/>
<circle cx="407.3" cy="752.3" r="2.3" fill="#00c800"/>
<circle cx="411.1" cy="754" r="2.3" fill="#00c800"/>
<circle cx="414.9" cy="752.3" r="2.3" fill="#00c800"/>
<circle cx="418.5" cy="754.7" r="2.3" fill="#00c800"/>
<circle cx="422.5" cy="752.3" r="2.3" fill="#00c800"/>
<circle cx="414.9" cy="776.9" r="2.3" fill="#00c800"/>
<line x1="290" y1="674.45" x2="290" y2="820.35" stroke="#000" stroke-width="1.5"/>
<line x1="284" y1="819.6" x2="435" y2="819.6" stroke="#000" stroke-width="1.5"/>
<text x="0" y="0" font-size="16.3" text-anchor="middle" transform="translate(236.6,746.2) rotate(-90)">IL-6 (pg/ml)</text>
<text x="323.8" y="839.4" font-size="14.5" text-anchor="middle" font-weight="normal" >PBS</text>
<text x="400.6" y="839.4" font-size="14.5" text-anchor="middle" font-weight="normal" >LPS</text>
<line x1="309.2" y1="699.2" x2="385.8" y2="699.2" stroke="#000" stroke-width="1.5"/>
<text x="347.5" y="691.8000000000001" font-size="12.2" text-anchor="middle" font-weight="normal" stroke="#000" stroke-width="0.4">###</text>
<line x1="387.5" y1="699.2" x2="415.1" y2="699.2" stroke="#000" stroke-width="1.5"/>
<text x="402.40000000000003" y="698.9000000000001" font-size="18.8" text-anchor="middle" font-weight="bold" letter-spacing="2.2">***</text>
<line x1="337.8" y1="672.0" x2="415.1" y2="672.0" stroke="#000" stroke-width="1.5"/>
<text x="376.45000000000005" y="664.6" font-size="12.2" text-anchor="middle" font-weight="normal" stroke="#000" stroke-width="0.4">###</text>
<line x1="534" y1="819.6" x2="540" y2="819.6" stroke="#000" stroke-width="1.4"/>
<text x="532" y="824.4" font-size="13.8" text-anchor="end" font-weight="normal" >0</text>
<line x1="534" y1="771.4666666666667" x2="540" y2="771.4666666666667" stroke="#000" stroke-width="1.4"/>
<text x="532" y="776.2666666666667" font-size="13.8" text-anchor="end" font-weight="normal" >2000</text>
<line x1="534" y1="723.3333333333334" x2="540" y2="723.3333333333334" stroke="#000" stroke-width="1.4"/>
<text x="532" y="728.1333333333333" font-size="13.8" text-anchor="end" font-weight="normal" >4000</text>
<line x1="534" y1="675.2" x2="540" y2="675.2" stroke="#000" stroke-width="1.4"/>
<text x="532" y="680.0" font-size="13.8" text-anchor="end" font-weight="normal" >6000</text>
<rect x="549.6" y="816.0" width="18.8" height="3.6000000000000227" fill="none" stroke="#2a2ad0" stroke-width="1.1"/>
<line x1="559.0" y1="815" x2="559.0" y2="818.5" stroke="#2a2ad0" stroke-width="1.0"/>
<line x1="554.3" y1="815" x2="563.7" y2="815" stroke="#2a2ad0" stroke-width="1.1"/>
<line x1="554.3" y1="818.5" x2="563.7" y2="818.5" stroke="#2a2ad0" stroke-width="1.1"/>
<circle cx="552" cy="817.3" r="2.3" fill="#0000d0"/>
<circle cx="554.5" cy="816.3" r="2.3" fill="#0000d0"/>
<circle cx="557" cy="817.5" r="2.3" fill="#0000d0"/>
<circle cx="559.5" cy="816.3" r="2.3" fill="#0000d0"/>
<circle cx="562" cy="817.5" r="2.3" fill="#0000d0"/>
<circle cx="564.5" cy="816.8" r="2.3" fill="#0000d0"/>
<circle cx="566.5" cy="817.3" r="2.3" fill="#0000d0"/>
<circle cx="559" cy="818" r="2.3" fill="#0000d0"/>
<circle cx="555.5" cy="818" r="2.3" fill="#0000d0"/>
<rect x="578.5" y="814.5" width="18.8" height="5.100000000000023" fill="none" stroke="#3ccc3c" stroke-width="1.1"/>
<line x1="587.9" y1="812.5" x2="587.9" y2="817.3" stroke="#3ccc3c" stroke-width="1.0"/>
<line x1="583.1999999999999" y1="812.5" x2="592.6" y2="812.5" stroke="#3ccc3c" stroke-width="1.1"/>
<line x1="583.1999999999999" y1="817.3" x2="592.6" y2="817.3" stroke="#3ccc3c" stroke-width="1.1"/>
<circle cx="580.6" cy="815.5" r="2.3" fill="#00c800"/>
<circle cx="583.4" cy="814.8" r="2.3" fill="#00c800"/>
<circle cx="586" cy="815.5" r="2.3" fill="#00c800"/>
<circle cx="588.6" cy="814.6" r="2.3" fill="#00c800"/>
<circle cx="591.4" cy="815.4" r="2.3" fill="#00c800"/>
<circle cx="594.8" cy="815.8" r="2.3" fill="#00c800"/>
<circle cx="588" cy="818.2" r="2.3" fill="#00c800"/>
<circle cx="584" cy="816.6" r="2.3" fill="#00c800"/>
<circle cx="592" cy="816.6" r="2.3" fill="#00c800"/>
<rect x="626.6" y="713.5" width="18.8" height="106.10000000000002" fill="none" stroke="#2a2ad0" stroke-width="1.1"/>
<line x1="636.0" y1="704.3" x2="636.0" y2="721.7" stroke="#2a2ad0" stroke-width="1.0"/>
<line x1="631.3" y1="704.3" x2="640.7" y2="704.3" stroke="#2a2ad0" stroke-width="1.1"/>
<line x1="631.3" y1="721.7" x2="640.7" y2="721.7" stroke="#2a2ad0" stroke-width="1.1"/>
<circle cx="638.2" cy="701.7" r="2.3" fill="#0000d0"/>
<circle cx="628.4" cy="705.9" r="2.3" fill="#0000d0"/>
<circle cx="637.9" cy="707.4" r="2.3" fill="#0000d0"/>
<circle cx="643.6" cy="707.1" r="2.3" fill="#0000d0"/>
<circle cx="633.3" cy="709.5" r="2.3" fill="#0000d0"/>
<circle cx="628.4" cy="719" r="2.3" fill="#0000d0"/>
<circle cx="643.6" cy="718.6" r="2.3" fill="#0000d0"/>
<circle cx="638.1" cy="722.4" r="2.3" fill="#0000d0"/>
<circle cx="633.3" cy="726.5" r="2.3" fill="#0000d0"/>
<rect x="655.5" y="756.9" width="18.8" height="62.700000000000045" fill="none" stroke="#3ccc3c" stroke-width="1.1"/>
<line x1="664.9" y1="750.2" x2="664.9" y2="761.4" stroke="#3ccc3c" stroke-width="1.0"/>
<line x1="660.1999999999999" y1="750.2" x2="669.6" y2="750.2" stroke="#3ccc3c" stroke-width="1.1"/>
<line x1="660.1999999999999" y1="761.4" x2="669.6" y2="761.4" stroke="#3ccc3c" stroke-width="1.1"/>
<circle cx="668.7" cy="746.1" r="2.3" fill="#00c800"/>
<circle cx="668.3" cy="751.9" r="2.3" fill="#00c800"/>
<circle cx="660.9" cy="754.7" r="2.3" fill="#00c800"/>
<circle cx="657.1" cy="757.1" r="2.3" fill="#00c800"/>
<circle cx="664.7" cy="758" r="2.3" fill="#00c800"/>
<circle cx="668" cy="757.6" r="2.3" fill="#00c800"/>
<circle cx="672.3" cy="756.9" r="2.3" fill="#00c800"/>
<circle cx="665.7" cy="758.5" r="2.3" fill="#00c800"/>
<circle cx="664.7" cy="766.4" r="2.3" fill="#00c800"/>
<line x1="540" y1="674.45" x2="540" y2="820.35" stroke="#000" stroke-width="1.5"/>
<line x1="534" y1="819.6" x2="684.5" y2="819.6" stroke="#000" stroke-width="1.5"/>
<text x="0" y="0" font-size="16.3" text-anchor="middle" transform="translate(486.6,745.9) rotate(-90)">TNF (pg/ml)</text>
<text x="573.8" y="839.4" font-size="14.5" text-anchor="middle" font-weight="normal" >PBS</text>
<text x="650.6" y="839.4" font-size="14.5" text-anchor="middle" font-weight="normal" >LPS</text>
<line x1="559.1" y1="695.7" x2="635.6" y2="695.7" stroke="#000" stroke-width="1.5"/>
<text x="597.35" y="688.3000000000001" font-size="12.2" text-anchor="middle" font-weight="normal" stroke="#000" stroke-width="0.4">###</text>
<line x1="637.3" y1="695.7" x2="664.8" y2="695.7" stroke="#000" stroke-width="1.5"/>
<text x="652.15" y="695.4000000000001" font-size="18.8" text-anchor="middle" font-weight="bold" letter-spacing="2.2">***</text>
<line x1="588" y1="668.7" x2="665.2" y2="668.7" stroke="#000" stroke-width="1.5"/>
<text x="626.6" y="661.3000000000001" font-size="12.2" text-anchor="middle" font-weight="normal" stroke="#000" stroke-width="0.4">###</text>
<circle cx="557.3" cy="181.9" r="2.2" fill="#0000d0"/>
<text x="573.2" y="187.3" font-size="14.5" text-anchor="start" font-weight="normal" >Veh</text>
<circle cx="615.6" cy="181.9" r="2.2" fill="#00c800"/>
<text x="631.3" y="187.3" font-size="14.5" text-anchor="start" font-weight="normal" >SKF</text>
</svg></body></html>
